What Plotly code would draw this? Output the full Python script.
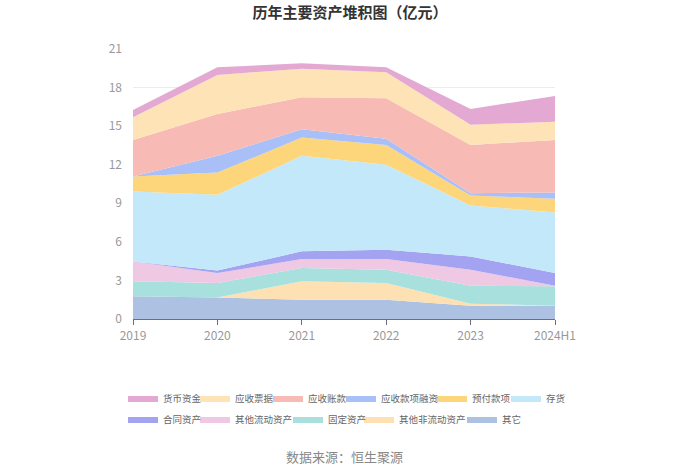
import plotly.graph_objects as go

years = ["2019", "2020", "2021", "2022", "2023", "2024H1"]

# stacking order: bottom first
qita = [1.76, 1.68, 1.50, 1.50, 1.04, 1.04]            # 其它
qita_fld = [0.00, 0.00, 1.43, 1.30, 0.15, 0.00]        # 其他非流动资产
gudingzichan = [1.17, 1.12, 1.03, 1.03, 1.40, 1.50]    # 固定资产
qita_ld = [1.55, 0.77, 0.70, 0.83, 1.24, 0.05]         # 其他流动资产
hetongzichan = [0.00, 0.21, 0.60, 0.73, 1.04, 0.98]    # 合同资产
cunhuo = [5.44, 5.88, 7.43, 6.60, 3.96, 4.72]          # 存货
yufukuanxiang = [1.16, 1.73, 1.42, 1.55, 0.78, 1.06]   # 预付款项
yingshourongzi = [0.00, 1.30, 0.65, 0.47, 0.18, 0.49]  # 应收款项融资
yingshouzhangkuan = [2.85, 3.26, 2.49, 3.16, 3.75, 4.09]  # 应收账款
yingshoupiaoju = [1.76, 3.03, 2.22, 2.02, 1.56, 1.42]  # 应收票据
huobizijin = [0.57, 0.60, 0.42, 0.39, 1.24, 2.00]      # 货币资金

y_ticks = [0, 3, 6, 9, 12, 15, 18, 21]

# (name, values, fill colour, legend id)
series = [
    ("其它", qita, "#adc2e3", "legend11"),
    ("其他非流动资产", qita_fld, "#fde1b3", "legend10"),
    ("固定资产", gudingzichan, "#a8e0de", "legend9"),
    ("其他流动资产", qita_ld, "#efc8e3", "legend8"),
    ("合同资产", hetongzichan, "#a3a3f2", "legend7"),
    ("存货", cunhuo, "#c3e8f9", "legend6"),
    ("预付款项", yufukuanxiang, "#fdd57a", "legend5"),
    ("应收款项融资", yingshourongzi, "#a9bff8", "legend4"),
    ("应收账款", yingshouzhangkuan, "#f8bab4", "legend3"),
    ("应收票据", yingshoupiaoju, "#fde3b6", "legend2"),
    ("货币资金", huobizijin, "#e3a9d3", "legend"),
]

# legend text start x (px) and row centre y (px) for each legend id
legend_pos = {
    "legend": (163, 398), "legend2": (235, 398), "legend3": (308, 398),
    "legend4": (381, 398), "legend5": (472, 398), "legend6": (546, 398),
    "legend7": (163, 419), "legend8": (235, 419), "legend9": (328, 419),
    "legend10": (399, 419), "legend11": (502, 419),
}

fig = go.Figure()
for name, vals, color, lg in series:
    fig.add_trace(go.Scatter(
        x=years, y=vals, name=name, mode="lines",
        stackgroup="one", line=dict(width=0, color=color),
        fillcolor=color, legend=lg,
    ))

font_family = "Noto Sans CJK SC, Noto Sans, sans-serif"
L, T, PW, PH = 133, 49, 422, 270

legends = {}
for lg, (tx, cy) in legend_pos.items():
    legends[lg] = dict(
        orientation="h", xanchor="left", x=(tx - 40 - L) / PW,
        yanchor="middle", y=(T + PH - cy) / PH,
        font=dict(size=9.5, color="#666", family=font_family),
        itemwidth=30, bgcolor="rgba(0,0,0,0)", itemclick=False,
    )

fig.update_layout(
    width=700, height=473,
    margin=dict(l=L, r=700 - L - PW, t=T, b=473 - T - PH),
    paper_bgcolor="white", plot_bgcolor="white",
    font=dict(family=font_family),
    title=dict(text="<b>历年主要资产堆积图（亿元）</b>", x=0.5, xanchor="center",
               y=1 - 13 / 473, yanchor="middle",
               font=dict(size=15, color="#333", family=font_family)),
    showlegend=True,
    xaxis=dict(
        type="category", range=[0, 5], showgrid=False,
        showline=True, linecolor="#6e7079", linewidth=1,
        ticks="outside", ticklen=5, tickcolor="#6e7079",
        tickfont=dict(size=12, color="#999"), zeroline=False,
        ticklabelstandoff=1,
    ),
    yaxis=dict(
        range=[0, 21], tickvals=y_ticks, showgrid=True, gridcolor="#e9ecf3",
        showline=False, zeroline=False, ticks="",
        tickfont=dict(size=12, color="#999"), ticklabelstandoff=10,
    ),
    annotations=[dict(
        text="数据来源：恒生聚源", xref="paper", yref="paper",
        x=0.5, y=(T + PH - 456) / PH, xanchor="center", yanchor="middle",
        showarrow=False,
        font=dict(size=13, color="#888", family=font_family),
    )],
    **legends,
)

fig.write_html("out.html", config={"displayModeBar": False},
               post_script="document.body.style.margin='0';")
